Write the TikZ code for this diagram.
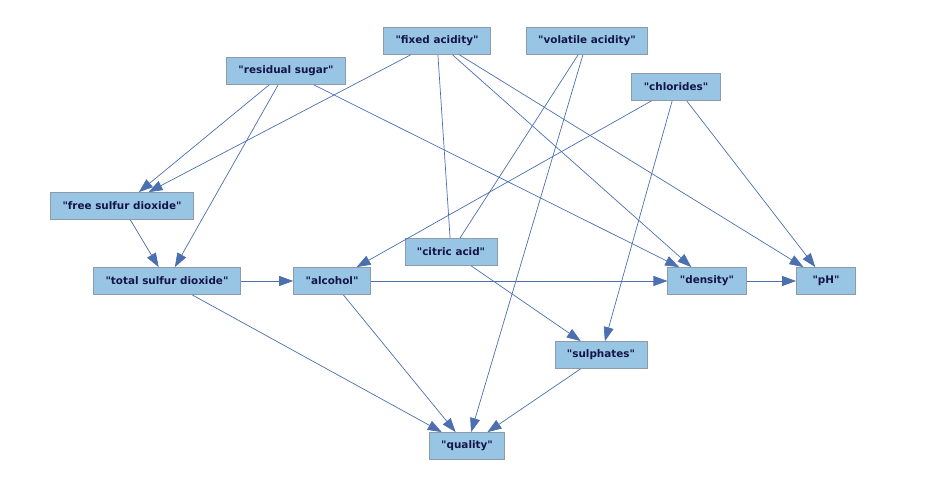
\documentclass[tikz,border=0pt]{standalone}
\usepackage{fontspec}
\newfontfamily\varfont{DejaVu Sans}
\usetikzlibrary{arrows.meta}
\definecolor{boxfill}{HTML}{98C5E3}
\definecolor{boxline}{HTML}{8E9BA8}
\definecolor{edgeblue}{HTML}{4B6FAF}
\definecolor{textnavy}{HTML}{14144A}
\begin{document}
\begin{tikzpicture}[x=1pt, y=-1pt,
    var/.style={draw=boxline, fill=boxfill, text=textnavy, font=\varfont\bfseries\fontsize{10.4}{12}\selectfont,
      minimum height=27pt, minimum width=59pt, inner xsep=12pt, line width=0.8pt},
    dep/.style={draw=edgeblue, line width=0.7pt, -{Triangle[length=14pt, width=10pt]}},
    link/.style={draw=edgeblue, line width=0.7pt}]
  \useasboundingbox (0,0) rectangle (939,488);
  % variables
  \node[var] (fixed) at (437,41) {"fixed acidity"};
  \node[var] (volatile) at (587,41) {"volatile acidity"};
  \node[var] (sugar) at (286,71) {"residual sugar"};
  \node[var] (chlorides) at (676,87) {"chlorides"};
  \node[var] (freeso) at (122,206) {"free sulfur dioxide"};
  \node[var] (citric) at (451,252) {"citric acid"};
  \node[var] (totalso) at (167,281) {"total sulfur dioxide"};
  \node[var] (alcohol) at (332,281) {"alcohol"};
  \node[var] (density) at (707,281) {"density"};
  \node[var] (ph) at (826,281) {"pH"};
  \node[var] (sulphates) at (601,355) {"sulphates"};
  \node[var] (quality) at (467,446) {"quality"};
  % arcs
  \draw[dep] (sugar) -- (freeso);
  \draw[dep] (sugar) -- (totalso);
  \draw[dep] (sugar) -- (density);
  \draw[dep] (fixed) -- (freeso);
  \draw[link] (fixed) -- (citric);
  \draw[dep] (fixed) -- (density);
  \draw[dep] (fixed) -- (ph);
  \draw[link] (volatile) -- (citric);
  \draw[dep] (volatile) -- (quality);
  \draw[dep] (chlorides) -- (alcohol);
  \draw[dep] (chlorides) -- (sulphates);
  \draw[dep] (chlorides) -- (ph);
  \draw[dep] (freeso) -- (totalso);
  \draw[dep] (totalso) -- (alcohol);
  \draw[dep] (totalso) -- (quality);
  \draw[dep] (alcohol) -- (density);
  \draw[dep] (alcohol) -- (quality);
  \draw[dep] (citric) -- (sulphates);
  \draw[dep] (density) -- (ph);
  \draw[dep] (sulphates) -- (quality);
\end{tikzpicture}
\end{document}
